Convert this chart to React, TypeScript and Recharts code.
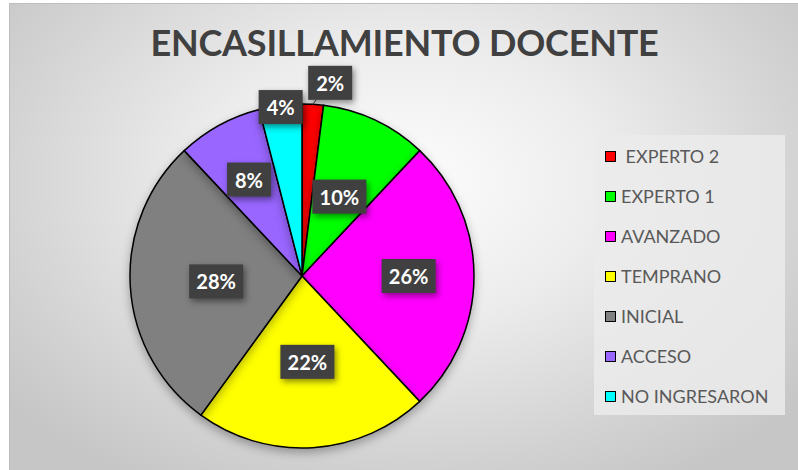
import React from 'react';
import { PieChart, Pie, Cell, Legend } from 'recharts';

const categories = [' EXPERTO 2', 'EXPERTO 1', 'AVANZADO', 'TEMPRANO', 'INICIAL', 'ACCESO', 'NO INGRESARON'];
const percentages = [2, 10, 26, 22, 28, 8, 4];
const sliceColors = ['#ff0000', '#00ff00', '#ff00ff', '#ffff00', '#808080', '#9966ff', '#00ffff'];
const titleText = 'ENCASILLAMIENTO DOCENTE';

const data = categories.map((name, i) => ({ name, value: percentages[i] }));

// label placement style (radius factor, angle nudge in degrees)
const labelPlacement = [
  { r: 1.135, da: -4.7 },
  { r: 0.51, da: 0 },
  { r: 0.62, da: 0 },
  { r: 0.5, da: 0 },
  { r: 0.5, da: 0 },
  { r: 0.64, da: 0 },
  { r: 0.99, da: 0 },
];

const RAD = Math.PI / 180;
const FONT = 'Lato, "Open Sans", sans-serif';

const renderLabel = (props: any) => {
  const { cx, cy, midAngle, outerRadius, index, value } = props;
  const p = labelPlacement[index];
  const ang = (midAngle + p.da) * RAD;
  const x = cx + outerRadius * p.r * Math.cos(ang);
  const y = cy - outerRadius * p.r * Math.sin(ang);
  const text = `${value}%`;
  const w = text.length === 2 ? 44 : 54;
  const h = 34;
  const leader = p.r > 1.05;
  const ex = cx + outerRadius * Math.cos(midAngle * RAD);
  const ey = cy - outerRadius * Math.sin(midAngle * RAD);
  return (
    <g key={`lbl-${index}`}>
      {leader && (
        <line x1={ex} y1={ey} x2={x - 14} y2={y + h / 2} stroke="#404040" strokeWidth={1} />
      )}
      <rect
        x={x - w / 2}
        y={y - h / 2}
        width={w}
        height={h}
        fill="#404040"
        style={{ filter: 'drop-shadow(2px 3px 3px rgba(0,0,0,0.45))' }}
      />
      <text
        x={x}
        y={y}
        fill="#ffffff"
        textAnchor="middle"
        dominantBaseline="central"
        fontFamily={FONT}
        fontWeight={700}
        fontSize={20}
      >
        {text}
      </text>
    </g>
  );
};

const renderLegend = (props: any) => {
  const payload = [...(props.payload || [])].sort(
    (a: any, b: any) => categories.indexOf(a.value) - categories.indexOf(b.value)
  );
  return (
    <div style={{ paddingTop: 1 }}>
      {payload.map((entry: any, i: number) => (
        <div
          key={`leg-${i}`}
          style={{ display: 'flex', alignItems: 'center', height: 40, paddingLeft: 11 }}
        >
          <span
            style={{
              display: 'inline-block',
              width: 9,
              height: 9,
              background: entry.color,
              border: '1.5px solid #000',
              marginRight: 5,
            }}
          />
          <span
            style={{
              fontFamily: FONT,
              fontSize: 18,
              color: '#595959',
              whiteSpace: 'pre',
              lineHeight: '20px',
            }}
          >
            {entry.value}
          </span>
        </div>
      ))}
    </div>
  );
};

export default function App() {
  return (
    <div style={{ position: 'absolute', left: 0, top: 0, width: 798, height: 470, background: '#ffffff' }}>
      <div
        style={{
          position: 'absolute',
          left: 9,
          top: 3,
          width: 789,
          height: 467,
          background:
            'radial-gradient(ellipse 65% 75% at 50% 38%, #fdfdfd 0%, #ececec 40%, #d2d2d2 80%, #c6c6c6 100%)',
          borderTop: '1px solid #bdbdbd',
          borderLeft: '1px solid #bdbdbd',
          boxSizing: 'border-box',
        }}
      />
      <div
        style={{
          position: 'absolute',
          left: 0,
          top: 17,
          width: 809,
          textAlign: 'center',
          fontFamily: FONT,
          fontWeight: 700,
          fontSize: 36,
          lineHeight: '50px',
          color: '#404040',
          letterSpacing: '-0.2px',
        }}
      >
        {titleText}
      </div>
      <div
        style={{
          position: 'absolute',
          left: 594,
          top: 135,
          width: 191,
          height: 280,
          background: 'rgba(235,235,235,0.85)',
        }}
      />
      <div style={{ position: 'absolute', left: 0, top: 0 }}>
        <PieChart width={798} height={470} margin={{ top: 0, right: 0, bottom: 0, left: 0 }}>
          <Pie
            data={data}
            dataKey="value"
            nameKey="name"
            cx={302}
            cy={276}
            outerRadius={172}
            startAngle={90}
            endAngle={-270}
            stroke="#000000"
            strokeWidth={1.5}
            label={renderLabel}
            labelLine={false}
            isAnimationActive={false}
            style={{ filter: 'drop-shadow(0px 4px 5px rgba(0,0,0,0.3))' }}
          >
            {data.map((d, i) => (
              <Cell key={`c-${i}`} fill={sliceColors[i]} />
            ))}
          </Pie>
          <Legend
            layout="vertical"
            align="right"
            verticalAlign="top"
            content={renderLegend}
            wrapperStyle={{ position: 'absolute', left: 594, top: 135, width: 191, height: 280 }}
          />
        </PieChart>
      </div>
    </div>
  );
}
